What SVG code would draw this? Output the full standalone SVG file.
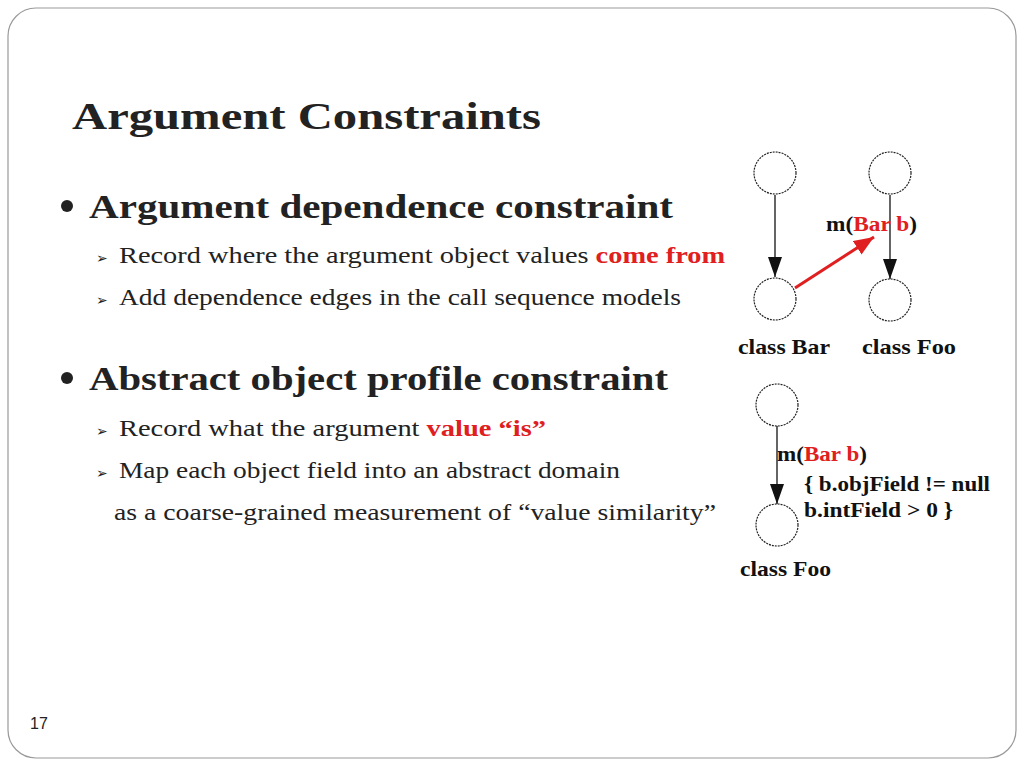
<svg xmlns="http://www.w3.org/2000/svg" width="1024" height="768" viewBox="0 0 1024 768">
<style>
.t{font-family:"Liberation Serif",serif;fill:#222}
.h{font-weight:bold}
.r{fill:#e02020;font-weight:bold}
.n{fill:#fff;stroke:#222;stroke-width:1.2;stroke-dasharray:2 1}
.g{font-family:"Liberation Serif",serif;font-weight:bold;font-size:21px;fill:#111}
</style>
<defs>
<marker id="ab" markerWidth="20" markerHeight="14" refX="20" refY="7" orient="auto" markerUnits="userSpaceOnUse" viewBox="0 0 20 14"><path d="M0,0 L20,7 L0,14 z" fill="#111"/></marker>
<marker id="ar" markerWidth="20" markerHeight="16" refX="20" refY="8" orient="auto" markerUnits="userSpaceOnUse" viewBox="0 0 20 16"><path d="M0,0 L20,8 L0,16 z" fill="#e02020"/></marker>
</defs>
<rect width="1024" height="768" fill="#fff"/>
<rect x="8" y="8" width="1008" height="750" rx="28" fill="#fff" stroke="#999" stroke-width="1.2"/>
<text class="t h" x="72" y="129" font-size="38" textLength="469" lengthAdjust="spacingAndGlyphs">Argument Constraints</text>
<circle cx="67" cy="206" r="6" fill="#222"/>
<text class="t h" x="89" y="218" font-size="34" textLength="584" lengthAdjust="spacingAndGlyphs">Argument dependence constraint</text>
<text class="t" x="96" y="263" font-size="14">➢</text>
<text class="t" x="119" y="263" font-size="24" textLength="606" lengthAdjust="spacingAndGlyphs">Record where the argument object values <tspan class="r">come from</tspan></text>
<text class="t" x="96" y="305" font-size="14">➢</text>
<text class="t" x="119" y="305" font-size="24" textLength="562" lengthAdjust="spacingAndGlyphs">Add dependence edges in the call sequence models</text>
<circle cx="67" cy="378" r="6" fill="#222"/>
<text class="t h" x="89" y="390" font-size="34" textLength="579" lengthAdjust="spacingAndGlyphs">Abstract object profile constraint</text>
<text class="t" x="96" y="436" font-size="14">➢</text>
<text class="t" x="119" y="436" font-size="24" textLength="427" lengthAdjust="spacingAndGlyphs">Record what the argument <tspan class="r">value “is”</tspan></text>
<text class="t" x="96" y="478" font-size="14">➢</text>
<text class="t" x="119" y="478" font-size="24" textLength="501" lengthAdjust="spacingAndGlyphs">Map each object field into an abstract domain</text>
<text class="t" x="114" y="520" font-size="24" textLength="602" lengthAdjust="spacingAndGlyphs">as a coarse-grained measurement   of “value similarity”</text>
<text x="30" y="729" font-family="Liberation Sans,sans-serif" font-size="16" fill="#222">17</text>
<g id="connectors">
<line x1="775" y1="195" x2="775" y2="277" stroke="#111" stroke-width="1.3" marker-end="url(#ab)"/>
<line x1="890" y1="195" x2="890" y2="279" stroke="#111" stroke-width="1.3" marker-end="url(#ab)"/>
<line x1="795" y1="288" x2="874" y2="237" stroke="#e02020" stroke-width="3" marker-end="url(#ar)"/>
<line x1="777" y1="426" x2="777" y2="504" stroke="#111" stroke-width="1.3" marker-end="url(#ab)"/>
</g>
<g id="n1"><circle class="n" cx="775" cy="173" r="21"/></g>
<g id="n2"><circle class="n" cx="890" cy="173" r="21"/></g>
<g id="n3"><circle class="n" cx="775" cy="299" r="21"/><text class="g" x="738" y="354" textLength="92" lengthAdjust="spacingAndGlyphs">class Bar</text></g>
<g id="n4"><circle class="n" cx="890" cy="300" r="21"/><text class="g" x="862" y="354" textLength="94" lengthAdjust="spacingAndGlyphs">class Foo</text></g>
<text class="g" x="826" y="231" textLength="91" lengthAdjust="spacingAndGlyphs">m(<tspan fill="#e02020">Bar b</tspan>)</text>
<g id="n5"><circle class="n" cx="777" cy="405" r="21"/></g>
<g id="n6"><circle class="n" cx="777" cy="525" r="21"/><text class="g" x="740" y="576" textLength="91" lengthAdjust="spacingAndGlyphs">class Foo</text></g>
<text class="g" x="777" y="461" textLength="90" lengthAdjust="spacingAndGlyphs">m(<tspan fill="#e02020">Bar b</tspan>)</text>
<text class="g" x="804" y="491" textLength="186" lengthAdjust="spacingAndGlyphs">{ b.objField != null</text>
<text class="g" x="804" y="517" textLength="149" lengthAdjust="spacingAndGlyphs">b.intField &gt; 0 }</text>
</svg>
